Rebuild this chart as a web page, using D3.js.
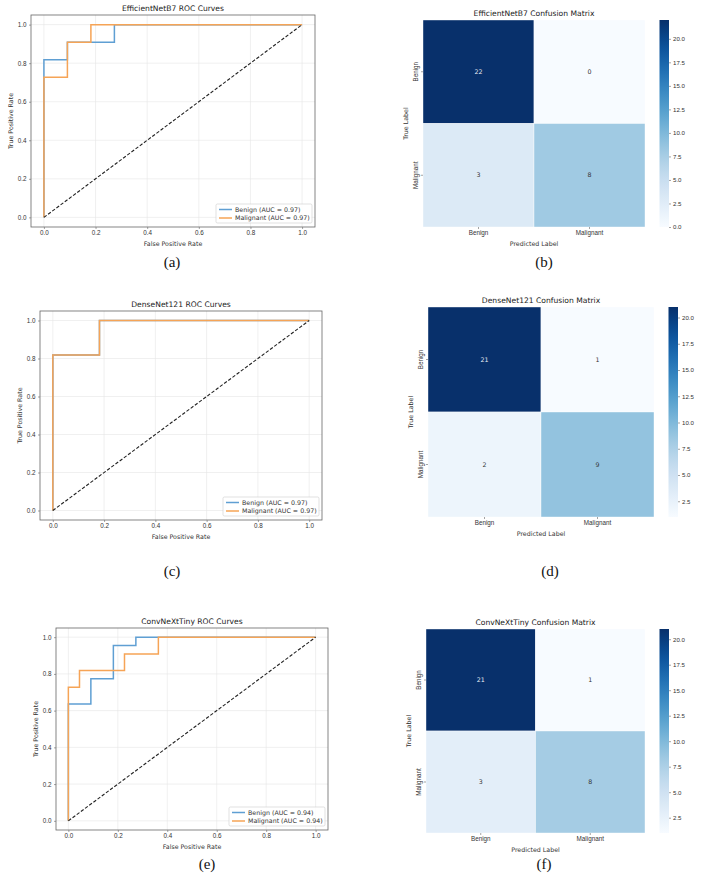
<!DOCTYPE html>
<html>
<head>
<meta charset="utf-8">
<script src="https://cdn.jsdelivr.net/npm/d3@7"></script>
<style>
  body { margin: 0; background: #fff; }
  svg { display: block; font-family: "DejaVu Sans", sans-serif; }
</style>
</head>
<body>
<svg id="fig" width="708" height="876"></svg>
<script>
// ---- data ----
const classNames = ["Benign", "Malignant"];
const rocTicks = [0, 0.2, 0.4, 0.6, 0.8, 1.0];

// EfficientNetB7 ROC
const effBenignFpr = [0, 0, 0.091, 0.091, 0.273, 0.273, 1];
const effBenignTpr = [0, 0.818, 0.818, 0.909, 0.909, 1, 1];
const effMalignFpr = [0, 0, 0.091, 0.091, 0.182, 0.182, 1];
const effMalignTpr = [0, 0.727, 0.727, 0.909, 0.909, 1, 1];
const effAuc = [0.97, 0.97];

// DenseNet121 ROC
const denseBenignFpr = [0, 0, 0.182, 0.182, 1];
const denseBenignTpr = [0, 0.818, 0.818, 1, 1];
const denseMalignFpr = [0, 0, 0.182, 0.182, 1];
const denseMalignTpr = [0, 0.818, 0.818, 1, 1];
const denseAuc = [0.97, 0.97];

// ConvNeXtTiny ROC
const convBenignFpr = [0, 0, 0.091, 0.091, 0.182, 0.182, 0.273, 0.273, 1];
const convBenignTpr = [0, 0.636, 0.636, 0.773, 0.773, 0.955, 0.955, 1, 1];
const convMalignFpr = [0, 0, 0.045, 0.045, 0.227, 0.227, 0.364, 0.364, 1];
const convMalignTpr = [0, 0.727, 0.727, 0.818, 0.818, 0.909, 0.909, 1, 1];
const convAuc = [0.94, 0.94];

// confusion matrices (rows = true, cols = predicted)
const effMatrix = [[22, 0], [3, 8]];
const denseMatrix = [[21, 1], [2, 9]];
const convMatrix = [[21, 1], [3, 8]];

const colors = { benign: "#5f9fd3", malign: "#f6a456" };
const svg = d3.select("#fig");
const textCol = "#333";

const zip = (xs, ys) => xs.map((x, i) => [x, ys[i]]);

// ---- ROC panel ----
const drawRoc = (box, title, benign, malign, auc) => {
  const g = svg.append("g");
  const x = d3.scaleLinear().domain([-0.05, 1.05]).range([box.l, box.r]);
  const y = d3.scaleLinear().domain([-0.05, 1.05]).range([box.b, box.t]);

  // grid
  g.append("g")
    .selectAll("line.gx")
    .data(rocTicks)
    .enter()
    .append("line")
    .attr("x1", (d) => x(d)).attr("x2", (d) => x(d))
    .attr("y1", box.t).attr("y2", box.b)
    .attr("stroke", "#e6e6e6").attr("stroke-width", 0.6);
  g.append("g")
    .selectAll("line.gy")
    .data(rocTicks)
    .enter()
    .append("line")
    .attr("y1", (d) => y(d)).attr("y2", (d) => y(d))
    .attr("x1", box.l).attr("x2", box.r)
    .attr("stroke", "#e6e6e6").attr("stroke-width", 0.6);

  const line = d3.line().x((d) => x(d[0])).y((d) => y(d[1]));

  g.append("path").datum(benign).attr("d", line)
    .attr("fill", "none").attr("stroke", colors.benign).attr("stroke-width", 1.5);
  g.append("path").datum(malign).attr("d", line)
    .attr("fill", "none").attr("stroke", colors.malign).attr("stroke-width", 1.5);
  g.append("path").datum([[0, 0], [1, 1]]).attr("d", line)
    .attr("fill", "none").attr("stroke", "#222").attr("stroke-width", 1.1)
    .attr("stroke-dasharray", "3.4,1.8");

  // frame
  g.append("rect")
    .attr("x", box.l).attr("y", box.t)
    .attr("width", box.r - box.l).attr("height", box.b - box.t)
    .attr("fill", "none").attr("stroke", "#666").attr("stroke-width", 0.8);

  const fmt = d3.format(".1f");
  const xa = g.append("g")
    .attr("transform", "translate(0," + box.b + ")")
    .call(d3.axisBottom(x).tickValues(rocTicks).tickFormat(fmt).tickSize(2).tickPadding(2));
  const ya = g.append("g")
    .attr("transform", "translate(" + box.l + ",0)")
    .call(d3.axisLeft(y).tickValues(rocTicks).tickFormat(fmt).tickSize(2).tickPadding(2.5));
  [xa, ya].forEach((a) => {
    a.select(".domain").remove();
    a.selectAll("line").attr("stroke", "#666").attr("stroke-width", 0.6);
    a.selectAll("text").attr("fill", textCol).style("font-size", "6.3px");
  });

  g.append("text")
    .attr("x", (box.l + box.r) / 2).attr("y", box.b + 19)
    .attr("text-anchor", "middle").attr("fill", textCol)
    .style("font-size", "6.3px").text("False Positive Rate");
  g.append("text")
    .attr("transform", "translate(" + (box.l - 18) + "," + (box.t + box.b) / 2 + ") rotate(-90)")
    .attr("text-anchor", "middle").attr("fill", textCol)
    .style("font-size", "6.3px").text("True Positive Rate");
  g.append("text")
    .attr("x", (box.l + box.r) / 2).attr("y", box.t - 4)
    .attr("text-anchor", "middle").attr("fill", "#222")
    .style("font-size", "7.6px").text(title);

  // legend
  const lw = 96, lh = 19;
  const lx = box.r - 3 - lw, ly = box.b - 4 - lh;
  const leg = g.append("g").attr("transform", "translate(" + lx + "," + ly + ")");
  leg.append("rect").attr("width", lw).attr("height", lh).attr("rx", 1.5)
    .attr("fill", "#fff").attr("fill-opacity", 0.85)
    .attr("stroke", "#ccc").attr("stroke-width", 0.6);
  const entries = [
    { name: classNames[0], auc: auc[0], c: colors.benign },
    { name: classNames[1], auc: auc[1], c: colors.malign },
  ];
  entries.forEach((e, i) => {
    const cy = 5.5 + i * 8.5;
    leg.append("line").attr("x1", 3).attr("x2", 16).attr("y1", cy).attr("y2", cy)
      .attr("stroke", e.c).attr("stroke-width", 1.5);
    leg.append("text").attr("x", 19).attr("y", cy + 2.1)
      .attr("fill", textCol).style("font-size", "6.3px")
      .text(e.name + " (AUC = " + e.auc.toFixed(2) + ")");
  });
};

// ---- confusion matrix panel ----
let gradId = 0;
const drawMatrix = (box, title, matrix) => {
  const g = svg.append("g");
  const x = d3.scaleBand().domain(classNames).range([box.l, box.r]);
  const y = d3.scaleBand().domain(classNames).range([box.t, box.b]);
  const flat = matrix.flat();
  const vmin = d3.min(flat), vmax = d3.max(flat);
  const color = d3.scaleSequential(d3.interpolateBlues).domain([vmin, vmax]);

  const cells = [];
  matrix.forEach((row, i) => row.forEach((v, j) => cells.push({ r: classNames[i], c: classNames[j], v })));

  g.selectAll("rect.cell").data(cells).enter().append("rect")
    .attr("x", (d) => x(d.c)).attr("y", (d) => y(d.r))
    .attr("width", x.bandwidth()).attr("height", y.bandwidth())
    .attr("fill", (d) => color(d.v))
    .attr("stroke", "#fff").attr("stroke-width", 0.4);

  g.selectAll("text.val").data(cells).enter().append("text")
    .attr("x", (d) => x(d.c) + x.bandwidth() / 2)
    .attr("y", (d) => y(d.r) + y.bandwidth() / 2 + 2.2)
    .attr("text-anchor", "middle").style("font-size", "6.3px")
    .attr("fill", (d) => {
      const c = d3.rgb(color(d.v));
      const lum = (0.2126 * c.r + 0.7152 * c.g + 0.0722 * c.b) / 255;
      return lum < 0.408 ? "#e8eef6" : "#333";
    })
    .text((d) => d.v);

  const xa = g.append("g").attr("transform", "translate(0," + box.b + ")")
    .call(d3.axisBottom(x).tickSize(2).tickPadding(2));
  const ya = g.append("g").attr("transform", "translate(" + box.l + ",0)")
    .call(d3.axisLeft(y).tickSize(2).tickPadding(2));
  [xa, ya].forEach((a) => {
    a.select(".domain").remove();
    a.selectAll("line").attr("stroke", "#666").attr("stroke-width", 0.6);
    a.selectAll("text").attr("fill", textCol).style("font-size", "6.3px");
  });
  ya.selectAll(".tick text")
    .attr("transform", "rotate(-90)")
    .attr("x", 0).attr("y", -5.5)
    .attr("dy", 0)
    .attr("text-anchor", "middle");

  g.append("text")
    .attr("x", (box.l + box.r) / 2).attr("y", box.b + 19)
    .attr("text-anchor", "middle").attr("fill", textCol)
    .style("font-size", "6.3px").text("Predicted Label");
  g.append("text")
    .attr("transform", "translate(" + (box.l - 15.5) + "," + (box.t + box.b) / 2 + ") rotate(-90)")
    .attr("text-anchor", "middle").attr("fill", textCol)
    .style("font-size", "6.3px").text("True Label");
  g.append("text")
    .attr("x", (box.l + box.r) / 2).attr("y", box.t - 3.8)
    .attr("text-anchor", "middle").attr("fill", "#222")
    .style("font-size", "7.6px").text(title);

  // colorbar
  const cbx = box.r + 14.5, cbw = 9.5;
  const id = "cb" + gradId++;
  const grad = svg.append("defs").append("linearGradient").attr("id", id)
    .attr("x1", 0).attr("y1", 1).attr("x2", 0).attr("y2", 0);
  d3.range(0, 1.0001, 0.05).forEach((t) => {
    grad.append("stop").attr("offset", t).attr("stop-color", d3.interpolateBlues(t));
  });
  g.append("rect").attr("x", cbx).attr("y", box.t)
    .attr("width", cbw).attr("height", box.b - box.t)
    .attr("fill", "url(#" + id + ")");
  const cy = d3.scaleLinear().domain([vmin, vmax]).range([box.b, box.t]);
  const cbTicks = d3.range(Math.ceil(vmin / 2.5) * 2.5, vmax + 1e-6, 2.5);
  const ca = g.append("g").attr("transform", "translate(" + (cbx + cbw) + ",0)")
    .call(d3.axisRight(cy).tickValues(cbTicks).tickFormat(d3.format(".1f")).tickSize(2).tickPadding(2));
  ca.select(".domain").remove();
  ca.selectAll("line").attr("stroke", "#666").attr("stroke-width", 0.6);
  ca.selectAll("text").attr("fill", textCol).style("font-size", "6.1px");
};

drawRoc({ l: 31, r: 315, t: 15, b: 227 }, "EfficientNetB7 ROC Curves",
  zip(effBenignFpr, effBenignTpr), zip(effMalignFpr, effMalignTpr), effAuc);
drawRoc({ l: 40, r: 322, t: 311, b: 520 }, "DenseNet121 ROC Curves",
  zip(denseBenignFpr, denseBenignTpr), zip(denseMalignFpr, denseMalignTpr), denseAuc);
drawRoc({ l: 56, r: 328, t: 628, b: 830 }, "ConvNeXtTiny ROC Curves",
  zip(convBenignFpr, convBenignTpr), zip(convMalignFpr, convMalignTpr), convAuc);

drawMatrix({ l: 423, r: 645, t: 20, b: 227 }, "EfficientNetB7 Confusion Matrix", effMatrix);
drawMatrix({ l: 428, r: 654, t: 307, b: 517 }, "DenseNet121 Confusion Matrix", denseMatrix);
drawMatrix({ l: 426, r: 645, t: 629, b: 833 }, "ConvNeXtTiny Confusion Matrix", convMatrix);

// captions
const captions = [
  { t: "(a)", x: 172, y: 267 }, { t: "(b)", x: 544, y: 267 },
  { t: "(c)", x: 172, y: 576 }, { t: "(d)", x: 550, y: 576 },
  { t: "(e)", x: 207, y: 869 }, { t: "(f)", x: 544, y: 869 },
];
svg.selectAll("text.cap").data(captions).enter().append("text")
  .attr("class", "cap")
  .attr("x", (d) => d.x).attr("y", (d) => d.y)
  .attr("text-anchor", "middle")
  .style("font-family", "'Liberation Serif', serif").style("font-size", "15px")
  .attr("fill", "#111")
  .text((d) => d.t);
</script>
</body>
</html>
